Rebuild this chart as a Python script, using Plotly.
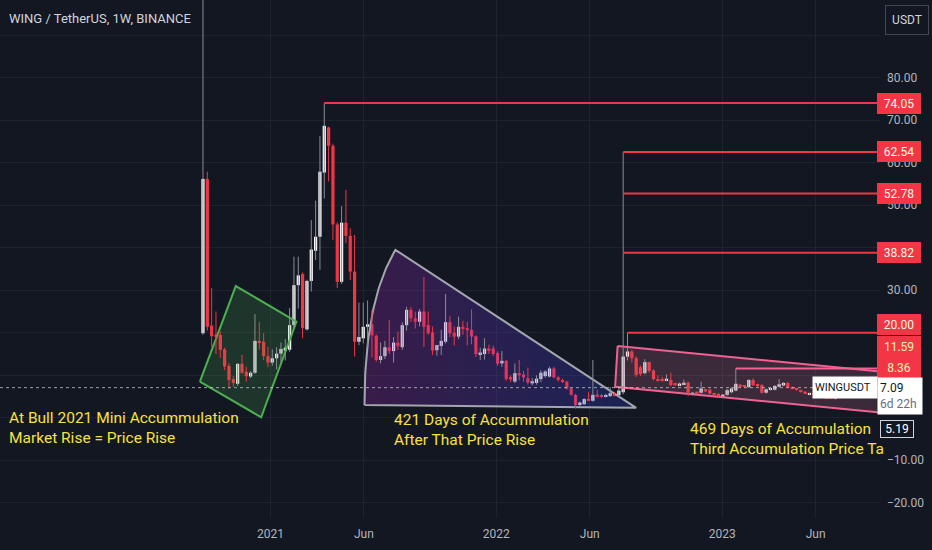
import numpy as np
import pandas as pd
import plotly.graph_objects as go

# ---------------- data (weekly WING/USDT candles) ----------------
week_start = "2020-09-14"
opens = [19.9, 56.2, 21.7, 19.6, 19.5, 16.1, 12.2, 9.1, 8.0, 12.7,
         10.8, 9.7, 10.6, 18.1, 17.9, 14.5, 13.0, 14.0, 15.1, 15.8,
         16.0, 21.8, 31.2, 33.8, 20.8, 32.2, 39.3, 42.6, 57.7, 68.3,
         64.0, 45.5, 32.0, 45.9, 42.8, 34.4, 17.9, 18.7, 21.4, 22.0,
         19.3, 13.6, 14.5, 16.6, 15.7, 17.7, 16.6, 21.8, 25.4, 23.4,
         22.6, 25.0, 21.8, 20.1, 15.9, 16.9, 17.9, 22.5, 20.0, 19.1,
         21.4, 21.1, 20.7, 19.2, 15.0, 15.0, 16.3, 16.3, 15.2, 12.8,
         13.4, 9.6, 8.5, 10.5, 10.2, 9.3, 8.1, 8.2, 9.1, 9.8,
         9.7, 11.6, 9.5, 8.9, 8.5, 6.9, 5.4, 3.0, 3.2, 4.4,
         4.0, 5.4, 5.3, 5.0, 5.1, 5.7, 5.3, 6.0, 14.4, 15.6,
         14.0, 11.9, 10.5, 13.1, 11.1, 9.1, 9.0, 8.8, 8.9, 7.9,
         7.7, 7.9, 8.3, 5.5, 6.0, 5.9, 6.7, 6.6, 5.7, 5.6,
         5.1, 5.4, 6.0, 6.4, 7.8, 7.5, 7.2, 8.9, 7.8, 7.7,
         5.9, 6.6, 6.6, 7.3, 7.6, 8.2, 7.2, 6.8, 6.4, 6.0,
         5.5, 5.8, 5.3, 5.0, 4.8, 4.7, 4.5]
highs = [110.0, 57.9, 30.5, 25.0, 20.3, 16.5, 12.9, 9.8, 12.8, 14.8,
         12.0, 11.0, 24.4, 22.6, 19.9, 16.7, 16.1, 16.6, 17.7, 18.5,
         25.8, 37.9, 37.9, 34.2, 32.5, 46.5, 51.1, 66.3, 74.05, 68.5,
         64.5, 46.0, 49.8, 53.6, 44.6, 43.0, 27.1, 27.1, 27.6, 25.4,
         19.6, 17.7, 18.1, 23.0, 19.0, 20.3, 22.5, 26.1, 26.1, 25.0,
         25.6, 33.1, 25.0, 21.5, 17.1, 20.7, 29.1, 24.0, 21.5, 23.8,
         22.8, 22.6, 25.5, 19.4, 16.5, 18.7, 17.2, 17.0, 15.6, 15.7,
         13.6, 10.0, 12.8, 13.6, 11.0, 11.8, 9.3, 10.0, 11.2, 11.2,
         12.0, 12.0, 9.8, 9.2, 8.7, 7.1, 5.6, 3.8, 4.6, 6.0,
         13.6, 6.6, 5.6, 5.7, 7.2, 6.0, 7.3, 62.54, 20.0, 16.0,
         14.5, 12.3, 13.8, 13.2, 11.5, 10.0, 9.6, 10.2, 10.6, 8.2,
         8.3, 9.0, 8.5, 6.1, 6.2, 8.5, 6.9, 6.8, 5.9, 5.8,
         5.6, 6.8, 7.2, 11.59, 8.0, 7.7, 9.1, 9.3, 8.0, 7.9,
         6.9, 7.2, 7.7, 9.1, 8.4, 8.4, 7.4, 7.0, 6.6, 6.2,
         5.9, 6.0, 5.5, 5.2, 5.0, 4.9, 7.3]
lows = [19.5, 20.5, 16.7, 15.0, 14.1, 11.2, 6.9, 7.3, 7.5, 10.3,
        8.5, 9.3, 10.3, 16.0, 13.6, 11.9, 12.2, 11.4, 13.0, 13.5,
        15.5, 21.0, 25.7, 18.7, 20.5, 29.7, 37.1, 34.8, 51.6, 55.6,
        41.8, 30.5, 31.5, 41.1, 32.4, 14.4, 17.1, 17.5, 16.7, 14.2,
        13.2, 12.8, 13.8, 15.0, 13.0, 16.0, 16.0, 20.5, 22.5, 21.0,
        21.5, 16.7, 19.5, 14.8, 14.6, 14.8, 17.5, 19.0, 17.0, 18.5,
        19.5, 17.0, 17.3, 14.3, 13.6, 13.7, 15.0, 14.5, 12.2, 12.0,
        8.7, 8.4, 8.2, 8.8, 8.5, 7.8, 7.6, 7.8, 8.4, 9.4,
        9.5, 9.3, 8.5, 8.2, 6.6, 5.2, 2.2, 2.6, 3.0, 3.9,
        3.8, 4.8, 4.7, 4.8, 4.9, 5.0, 5.0, 5.5, 13.5, 13.0,
        9.6, 9.8, 10.2, 10.6, 8.8, 8.5, 8.5, 8.6, 7.4, 7.5,
        7.5, 7.7, 5.1, 5.3, 5.5, 5.7, 6.0, 5.5, 5.2, 4.9,
        4.9, 5.2, 5.8, 6.2, 7.2, 7.0, 7.0, 7.5, 7.2, 5.7,
        5.7, 6.4, 6.4, 7.1, 7.4, 7.0, 6.7, 6.4, 5.9, 5.6,
        5.3, 5.3, 4.9, 4.7, 4.5, 4.4, 4.3]
closes = [56.2, 21.4, 19.2, 19.2, 16.0, 12.1, 8.9, 8.2, 12.7, 10.6,
          9.8, 10.6, 18.1, 17.7, 14.5, 13.0, 14.0, 15.1, 16.2, 16.5,
          21.8, 31.2, 33.5, 21.1, 32.2, 39.6, 42.6, 57.9, 68.7, 64.0,
          45.5, 32.0, 45.9, 42.8, 34.4, 17.9, 19.0, 21.4, 22.0, 19.4,
          13.6, 14.5, 16.6, 15.7, 17.7, 16.9, 21.8, 25.4, 23.4, 22.6,
          25.0, 21.4, 19.9, 15.8, 17.1, 18.1, 22.5, 19.9, 19.1, 21.4,
          21.0, 20.6, 19.1, 15.0, 15.3, 16.3, 15.9, 15.0, 12.7, 13.4,
          9.1, 9.0, 10.5, 10.0, 9.5, 8.3, 8.6, 9.2, 10.6, 10.9,
          11.6, 9.5, 8.9, 8.4, 6.9, 5.4, 3.0, 3.6, 4.4, 4.1,
          5.4, 5.1, 5.0, 5.3, 5.8, 5.3, 6.4, 14.4, 15.6, 14.0,
          10.1, 10.3, 13.1, 11.0, 9.1, 8.7, 8.7, 9.2, 7.7, 7.8,
          8.0, 8.1, 5.9, 5.9, 5.8, 6.9, 6.2, 5.7, 5.4, 5.1,
          5.4, 6.5, 6.9, 8.0, 7.4, 7.3, 8.9, 7.7, 7.5, 5.9,
          6.7, 6.9, 7.5, 7.9, 8.2, 7.2, 6.9, 6.6, 6.1, 5.8,
          5.7, 5.5, 5.0, 4.8, 4.6, 4.5, 7.09]

# horizontal levels (value, index of the candle where the ray starts)
level_values = [74.05, 62.54, 52.78, 38.82, 20.00]
level_start_idx = [28, 97, 97, 97, 98]
pink_level_value = 11.59
pink_level_start_idx = 123

# axis price labels
label_texts = ["74.05", "62.54", "52.78", "38.82", "20.00", "11.59", "8.36"]
label_values = [74.05, 62.54, 52.78, 38.82, 20.00, 11.59, 8.36]
last_price = 7.09
low_label = 5.19

# x / y ticks
x_tickvals = ["2021-01-01", "2021-06-01", "2022-01-01", "2022-06-01", "2023-01-01", "2023-06-01"]
x_ticktext = ["2021", "Jun", "2022", "Jun", "2023", "Jun"]
y_tickvals = [-20, -10, 0, 10, 20, 30, 40, 50, 60, 70, 80, 90]
y_ticktext = ["\u221220.00", "\u221210.00", "", "", "", "30.00", "", "50.00", "60.00", "70.00", "80.00", ""]

# drawings (date, price)
green_box_x = ["2020-09-09", "2020-11-06", "2021-02-12", "2020-12-17", "2020-09-09"]
green_box_y = [8.49, 31.0, 22.6, 0.12, 8.49]
tri_bottom_left = ("2021-06-02", 3.0)
tri_ctrl = ("2021-06-02", 27.4)
tri_apex = ("2021-07-22", 39.5)
tri_bottom_right = ("2022-08-15", 2.35)
chan_x = ["2022-07-16", "2023-10-15", "2023-10-15", "2022-07-12", "2022-07-16"]
chan_y = [16.9, 10.42, 0.76, 7.3, 16.9]

# ---------------- build ----------------
BG = "#131722"
RED = "#f23645"
PINK = "#f06292"
YELLOW = "#f7e23e"
AXT = "#b2b5be"

dates = pd.date_range(week_start, periods=len(opens), freq="7D")
o = np.array(opens); h = np.array(highs); l = np.array(lows); c = np.array(closes)
up = c >= o
body_lo = np.minimum(o, c)
body_h = np.maximum(np.abs(c - o), 0.35)
bar_w = 5.2 * 86400000

fig = go.Figure()

# green rotated box
fig.add_trace(go.Scatter(x=green_box_x, y=green_box_y, mode="lines", fill="toself",
                         fillcolor="rgba(76,175,80,0.2)", line=dict(color="#4caf50", width=2)))

# triangle with curved left side
def tnum(d):
    return pd.Timestamp(d).value / 86400e9
p0 = np.array([tnum(tri_bottom_left[0]), tri_bottom_left[1]])
p1 = np.array([tnum(tri_ctrl[0]), tri_ctrl[1]])
p2 = np.array([tnum(tri_apex[0]), tri_apex[1]])
t = np.linspace(0, 1, 40)
curve = ((1 - t) ** 2)[:, None] * p0 + (2 * (1 - t) * t)[:, None] * p1 + (t ** 2)[:, None] * p2
tri_xn = list(curve[:, 0]) + [tnum(tri_bottom_right[0]), p0[0]]
tri_y = list(curve[:, 1]) + [tri_bottom_right[1], p0[1]]
tri_x = pd.to_datetime(np.array(tri_xn) * 86400e9)
fig.add_trace(go.Scatter(x=tri_x, y=tri_y, mode="lines", fill="toself",
                         fillgradient=dict(type="horizontal",
                                           colorscale=[[0, "rgba(156,39,176,0.28)"],
                                                       [1, "rgba(48,79,254,0.22)"]]),
                         line=dict(color="#a3a6af", width=2)))

# pink channel
fig.add_trace(go.Scatter(x=chan_x, y=chan_y, mode="lines", fill="toself",
                         fillcolor="rgba(205,120,145,0.22)", line=dict(color=PINK, width=2)))

# wicks
def wick_xy(mask):
    xs, ys = [], []
    for d, hi, lo in zip(dates[mask], h[mask], l[mask]):
        xs += [d, d, None]
        ys += [lo, hi, None]
    return xs, ys

wx, wy = wick_xy(up)
fig.add_trace(go.Scatter(x=wx, y=wy, mode="lines", line=dict(color="#8a8d96", width=1)))
wx, wy = wick_xy(~up)
fig.add_trace(go.Scatter(x=wx, y=wy, mode="lines", line=dict(color=RED, width=1)))

# bodies
fig.add_trace(go.Bar(x=dates[up], y=body_h[up], base=body_lo[up], width=bar_w,
                     marker=dict(color="#ffffff", line=dict(width=0))))
fig.add_trace(go.Bar(x=dates[~up], y=body_h[~up], base=body_lo[~up], width=bar_w,
                     marker=dict(color=RED, line=dict(width=0))))

# horizontal rays
far_right = "2024-06-01"
for v, i0 in zip(level_values, level_start_idx):
    fig.add_trace(go.Scatter(x=[dates[i0], far_right], y=[v, v], mode="lines",
                             line=dict(color=RED, width=2)))
fig.add_trace(go.Scatter(x=[dates[pink_level_start_idx], far_right],
                         y=[pink_level_value, pink_level_value], mode="lines",
                         line=dict(color=PINK, width=2)))

# last price dotted line
fig.add_shape(type="line", xref="paper", x0=0, x1=1, yref="y", y0=last_price, y1=last_price,
              line=dict(color="rgba(200,203,212,0.75)", width=1, dash="dot"))

ann = []
FONT = "Roboto, 'Open Sans', sans-serif"
NARROW = "Roboto, sans-serif"
ann.append(dict(xref="paper", yref="paper", x=0, y=1, xanchor="left", yanchor="top",
                xshift=7, yshift=-9, text="WING / TetherUS, 1W, BINANCE", showarrow=False,
                font=dict(family=FONT, size=13, color="#d1d4dc")))
ann.append(dict(xref="paper", yref="paper", x=1, y=1, xanchor="left", yanchor="top",
                xshift=5, yshift=-5, text="USDT", showarrow=False, width=34, height=20,
                bgcolor=BG, bordercolor="#434651", borderwidth=1, borderpad=4,
                font=dict(family=FONT, size=12, color="#d1d4dc")))

label_shift = [0, 0, 0, 0, 8, 22, 15]
label_color = ["#fffbe6"] * 5 + ["#fff3b0", "#fff3b0"]
for txt, v, s, col in zip(label_texts, label_values, label_shift, label_color):
    ann.append(dict(xref="paper", yref="y", x=1, y=v, xanchor="left", yanchor="middle",
                    xshift=-3, yshift=s, text=txt, showarrow=False, width=40, height=17,
                    bgcolor=RED, bordercolor=RED, borderwidth=1, borderpad=1,
                    font=dict(family=FONT, size=12, color=col)))

ann.append(dict(xref="paper", yref="y", x=1, y=last_price, xanchor="right", yanchor="middle",
                xshift=-2, text="WINGUSDT", showarrow=False, width=60, height=17,
                bgcolor="#ffffff", borderpad=2, align="left",
                font=dict(family=FONT, size=11, color="#131722")))
ann.append(dict(xref="paper", yref="y", x=1, y=last_price, xanchor="left", yanchor="top",
                xshift=-3, yshift=11, text="7.09<br><span style='color:#6a6d78'>6d 22h</span>",
                showarrow=False, width=40, height=32, bgcolor="#ffffff", borderpad=2, align="left",
                font=dict(family=FONT, size=12, color="#131722")))
ann.append(dict(xref="paper", yref="y", x=1, y=low_label, xanchor="left", yanchor="middle",
                xshift=0, yshift=-33, text="5.19", showarrow=False, width=30, height=14,
                bgcolor=BG, bordercolor="#d1d4dc", borderwidth=1, borderpad=1,
                font=dict(family=FONT, size=12, color="#ffffff")))

notes = [("2019-11-02", -2.4, "At Bull 2021 Mini Accummulation<br>Market Rise = Price Rise"),
         ("2021-07-17", -2.8, "421 Days of Accummulation<br>After That Price Rise"),
         ("2022-11-06", -4.9, "469 Days of Accumulation<br>Third Accumulation Price Ta")]
for xd, yv, txt in notes:
    ann.append(dict(xref="x", yref="y", x=xd, y=yv, xanchor="left", yanchor="middle",
                    text=txt, showarrow=False, align="left",
                    font=dict(family=NARROW, size=15.5, color=YELLOW)))

fig.update_layout(
    width=932, height=550,
    margin=dict(l=0, r=52, t=0, b=32),
    paper_bgcolor=BG, plot_bgcolor=BG,
    showlegend=False, barmode="overlay", hovermode=False,
    annotations=ann,
    xaxis=dict(type="date", range=["2019-10-22", "2023-09-13"],
               tickvals=x_tickvals, ticktext=x_ticktext,
               showgrid=True, gridcolor="#1f232e", gridwidth=1, zeroline=False,
               showline=False, ticks="outside", ticklen=5, tickcolor=BG,
               tickfont=dict(family=FONT, size=12, color=AXT), fixedrange=True),
    yaxis=dict(side="right", range=[-23.58, 98.3], tickvals=y_tickvals, ticktext=y_ticktext,
               showgrid=True, gridcolor="#1f232e", gridwidth=1, zeroline=False,
               showline=False, ticks="", ticklabelstandoff=6,
               tickfont=dict(family=FONT, size=12, color=AXT), fixedrange=True),
)

fig.write_html("out.html")
